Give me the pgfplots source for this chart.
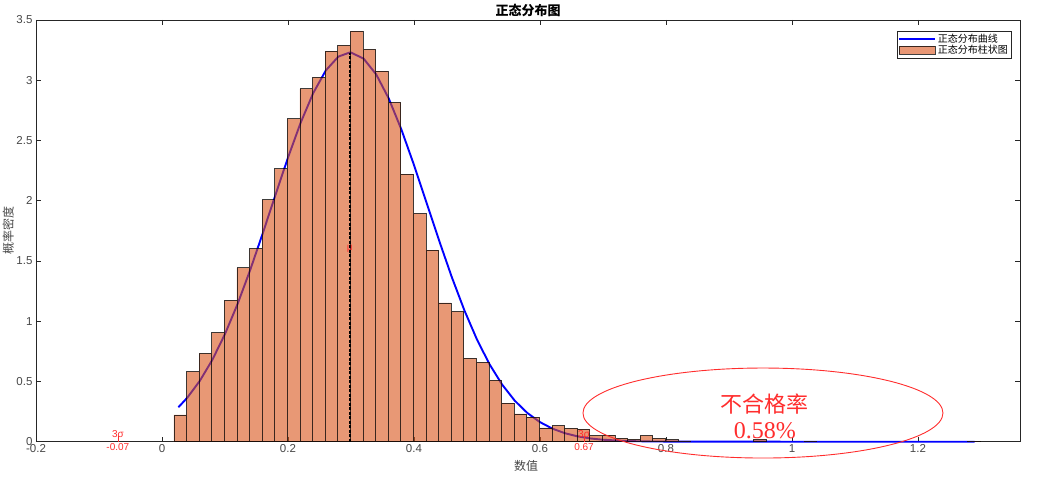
\documentclass[border=0pt]{standalone}
\usepackage{fontspec}
\setmainfont{Liberation Sans}
\newfontfamily\cjk{Noto Sans CJK SC}
\newfontfamily\serif{Liberation Serif}
\usepackage{pgfplots}
\pgfplotsset{compat=1.18}
\definecolor{axgray}{RGB}{38,38,38}
\definecolor{barfill}{rgb}{0.85,0.325,0.098}
\definecolor{mred}{RGB}{255,45,45}
\pgfplotsset{
  linelegend/.style={legend image code/.code={\draw[##1] (0pt,0pt) -- (36pt,0pt);}},
  rectlegend/.style={legend image code/.code={\draw[##1] (0pt,-3.8pt) rectangle (36pt,3.8pt);}},
}
\begin{document}
\begin{tikzpicture}
\useasboundingbox (-36pt,-35.3pt) rectangle (1003pt,441.7pt);
\begin{axis}[
  at={(0pt,0pt)}, anchor=south west,
  scale only axis, width=984pt, height=421.7pt,
  xmin=-0.2, xmax=1.362, ymin=0, ymax=3.5,
  xtick={-0.2,0,0.2,0.4,0.6,0.8,1,1.2},
  ytick={0,0.5,1,1.5,2,2.5,3,3.5},
  /pgf/number format/assume math mode=true,
  /pgf/number format/fixed,
  tick label style={font=\fontsize{11.5}{13}\selectfont, text=axgray!85},
  xticklabel style={yshift=1pt},
  axis line style={axgray, line width=0.6pt},
  every tick/.style={axgray, line width=0.6pt},
  major tick length=5pt,
  tick align=inside,
  clip=false,
  every axis title shift=0pt,
  title={\cjk\bfseries 正态分布图},
  title style={font=\fontsize{13}{14}\selectfont, at={(axis description cs:0.5,1.0225)}, anchor=center, yshift=0pt},
  xlabel={\cjk 数值},
  xlabel style={font=\fontsize{12}{13}\selectfont, text=axgray!85, at={(axis description cs:0.498,-0.057)}, anchor=center},
  ylabel={\cjk 概率密度},
  ylabel style={font=\fontsize{12}{13}\selectfont, text=axgray!85, at={(axis description cs:-0.0282,0.5)}, anchor=center},
  legend style={at={(0.991,0.974)}, anchor=north east, font=\cjk\fontsize{10}{10.5}\selectfont,
    draw=axgray, line width=0.5pt, inner sep=1pt, row sep=-3pt, legend cell align=left},
]
% normal distribution curve (mu = 0.298, sigma = 0.1235)
\addplot[blue, line width=1.9pt, no marks, linelegend] coordinates {
(0.026,0.2857) (0.04,0.3644) (0.06,0.5045) (0.08,0.6802) (0.10,0.8935)
(0.12,1.1433) (0.14,1.4250) (0.16,1.7303) (0.18,2.0465) (0.20,2.3578)
(0.22,2.6461) (0.24,2.8930) (0.26,3.0810) (0.28,3.1963) (0.298,3.2303)
(0.30,3.2299) (0.32,3.1795) (0.34,3.0488) (0.36,2.8479) (0.38,2.5913)
(0.40,2.2967) (0.42,1.9832) (0.44,1.6679) (0.46,1.3665) (0.48,1.0905)
(0.50,0.8478) (0.52,0.6420) (0.54,0.4736) (0.56,0.3403) (0.58,0.2382)
(0.60,0.1625) (0.62,0.1079) (0.64,0.0699) (0.66,0.0440) (0.68,0.0270)
(0.70,0.0162) (0.74,0.0053) (0.78,0.0016) (0.85,0.0001) (1.0,0) (1.29,0)
};
\addlegendentry{正态分布曲线}
% histogram (probability density)
\addplot[ybar, bar width=0.02, bar shift=0pt, fill=barfill, fill opacity=0.6,
  draw=black, draw opacity=0.75, line width=0.8pt, rectlegend] coordinates {
(0.029,0.222) (0.049,0.581) (0.069,0.734) (0.089,0.905) (0.109,1.174)
(0.129,1.443) (0.149,1.603) (0.169,2.007) (0.189,2.265) (0.209,2.680)
(0.229,2.929) (0.249,3.023) (0.269,3.242) (0.289,3.289) (0.309,3.408)
(0.329,3.256) (0.349,3.076) (0.369,2.816) (0.389,2.220) (0.409,1.894)
(0.429,1.589) (0.449,1.152) (0.469,1.080) (0.489,0.692) (0.509,0.659)
(0.529,0.509) (0.549,0.321) (0.569,0.230) (0.589,0.205) (0.609,0.114)
(0.629,0.133) (0.649,0.111) (0.669,0.105) (0.689,0.050) (0.709,0.055)
(0.729,0.028) (0.749,0.019) (0.769,0.050) (0.789,0.028) (0.809,0.017)
(0.829,0.006) (0.949,0.017) (1.029,0.004) (1.289,0.005)
};
\addlegendentry{正态分布柱状图}
% mean line
\addplot[black, dash pattern=on 3pt off 1.5pt, line width=1.6pt, forget plot] coordinates {(0.298,0) (0.298,3.23)};
% 3 sigma ticks
\addplot[mred, line width=0.7pt, forget plot] coordinates {(-0.07,0) (-0.07,0.045)};
\addplot[mred, line width=0.7pt, forget plot] coordinates {(0.67,0) (0.67,0.045)};
\node[text=mred, font=\fontsize{10}{11}\selectfont] at (axis cs:0.298,1.6) {μ};
\node[text=mred, font=\fontsize{10}{11}\selectfont] at (axis cs:-0.07,0.065) {3σ};
\node[text=mred, font=\fontsize{10}{11}\selectfont] at (axis cs:-0.07,-0.045) {-0.07};
\node[text=mred, font=\fontsize{10}{11}\selectfont] at (axis cs:0.67,0.065) {3σ};
\node[text=mred, font=\fontsize{10}{11}\selectfont] at (axis cs:0.67,-0.045) {0.67};
% annotation
\draw[mred, line width=0.9pt] (axis cs:0.954,0.238) ellipse [x radius=180pt, y radius=45pt];
\node[text=mred, font=\cjk\fontsize{22}{24}\selectfont] at (axis cs:0.957,0.313) {不合格率};
\node[text=mred, font=\serif\fontsize{24}{26}\selectfont, anchor=base] at (axis cs:0.957,0.024) {0.58\%};
\end{axis}
\end{tikzpicture}
\end{document}
